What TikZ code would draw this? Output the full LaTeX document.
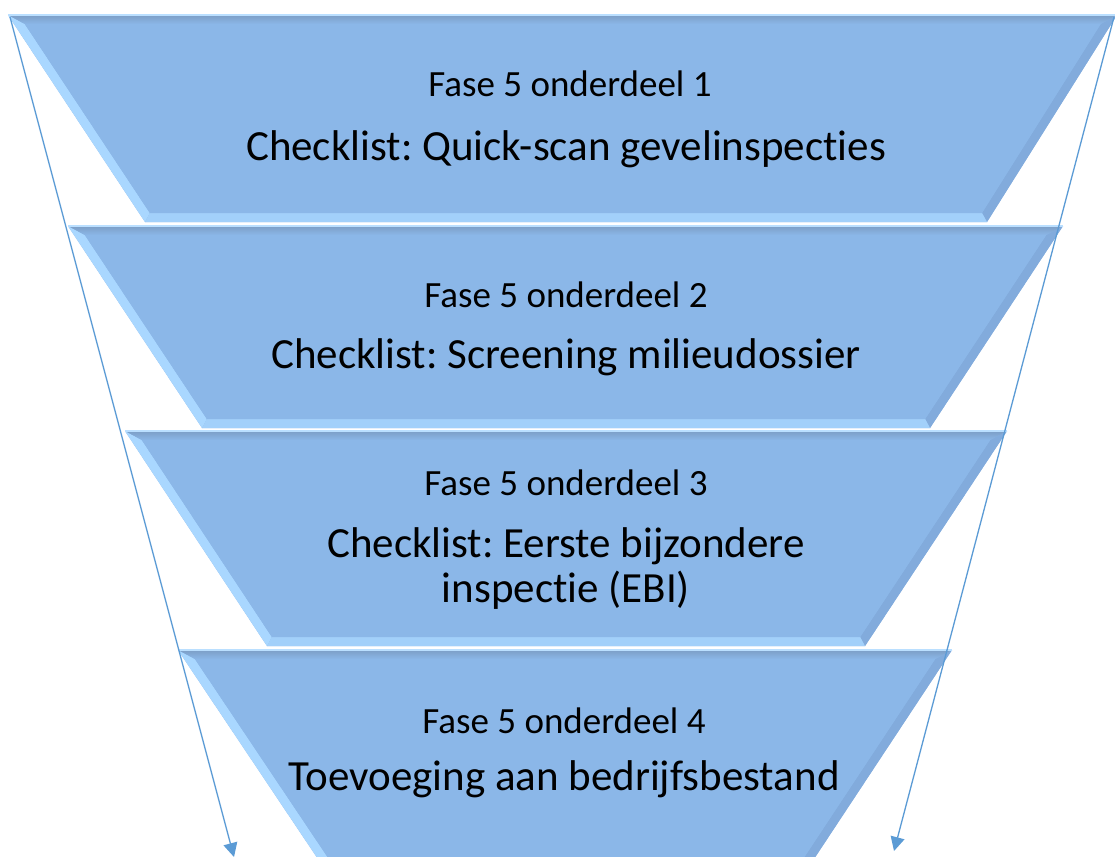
\documentclass[tikz,border=0pt]{standalone}
\usepackage{fontspec}
\setmainfont{Carlito}[Ligatures={NoCommon,NoRare,NoContextual}]
\frenchspacing
\usetikzlibrary{arrows.meta,calc}
\definecolor{face}{HTML}{8BB7E8}
\definecolor{topbev}{HTML}{7C9EC6}
\definecolor{toplight}{HTML}{BADFFF}
\definecolor{lightbev}{HTML}{A9D7FF}
\definecolor{rightbev}{HTML}{82ABDC}
\definecolor{botbev}{HTML}{A2D0FA}
\definecolor{arrowc}{HTML}{5B9BD5}
\def\bev{9}
% #1 name, #2 top y, #3 bottom y, #4 top-left x, #5 top-right x, #6 bottom-left x, #7 bottom-right x
\newcommand\funnelseg[7]{%
  \pgfmathsetmacro\kl{(#6-#4)/(#3-#2)}%
  \pgfmathsetmacro\kr{(#5-#7)/(#3-#2)}%
  \pgfmathsetmacro\hl{\bev*sqrt(1+\kl*\kl)}%
  \pgfmathsetmacro\hr{\bev*sqrt(1+\kr*\kr)}%
  \coordinate (#1TL) at (#4,-#2);
  \coordinate (#1TR) at (#5,-#2);
  \coordinate (#1BL) at (#6,-#3);
  \coordinate (#1BR) at (#7,-#3);
  \coordinate (#1iTL) at ({#4+\kl*\bev+\hl},{-(#2+\bev)});
  \coordinate (#1iTR) at ({#5-\kr*\bev-\hr},{-(#2+\bev)});
  \coordinate (#1iBL) at ({#6-\kl*\bev+\hl},{-(#3-\bev)});
  \coordinate (#1iBR) at ({#7+\kr*\bev-\hr},{-(#3-\bev)});
  \fill[face] (#1TL) -- (#1TR) -- (#1BR) -- (#1BL) -- cycle;
  \fill[lightbev] (#1TL) -- (#1iTL) -- (#1iBL) -- (#1BL) -- cycle;
  \fill[rightbev] (#1TR) -- (#1BR) -- (#1iBR) -- (#1iTR) -- cycle;
  \fill[botbev] (#1BL) -- (#1iBL) -- (#1iBR) -- (#1BR) -- cycle;
  \shade[top color=topbev, bottom color=face] (#1TL) -- (#1TR) -- (#1iTR) -- (#1iTL) -- cycle;
  \fill[face] (#1iTL) -- (#1iTR) -- (#1iBR) -- (#1iBL) -- cycle;
  \draw[toplight, line width=2pt] (#1TL) -- (#1TR);
}
\tikzset{
  small/.style={anchor=base, font=\fontsize{37}{44}\selectfont, text=black, inner sep=0pt},
  big/.style={anchor=base, font=\fontsize{43}{46}\selectfont, text=black, inner sep=0pt, align=center},
  flow/.style={draw=arrowc, line width=1.3pt, -{Triangle[length=14pt,width=14pt]}, arrowc}
}
\begin{document}
\begin{tikzpicture}[x=1pt,y=1pt]
\useasboundingbox (0,0) rectangle (1115,-856);
\fill[white] (0,0) rectangle (1115,-856);
\funnelseg{A}{15}{222}{8}{1117}{145}{987}
\funnelseg{B}{226}{428}{68}{1063}{202}{930}
\funnelseg{C}{431}{646}{125}{1007}{267}{865}
\funnelseg{D}{650}{868}{178}{952}{324}{808}

\node[small] (a1) at (570,-97) {Fase 5 onderdeel 1};
\node[big] (a2) at (566,-160) {Checklist: Quick-scan gevelinspecties};
\node[small] (b1) at (566,-307) {Fase 5 onderdeel 2};
\node[big] (b2) at (566,-368) {Checklist: Screening milieudossier};
\node[small] (c1) at (566,-495) {Fase 5 onderdeel 3};
\node[big] (c2) at (566,-557) {Checklist: Eerste bijzondere};
\node[big] (c3) at (566,-602) {inspectie (EBI)};
\node[small] (d1) at (564,-733) {Fase 5 onderdeel 4};
\node[big] (d2) at (564,-790) {Toevoeging aan bedrijfsbestand};

\coordinate (LS) at (10,-17);
\coordinate (LE) at (234,-857);
\coordinate (RS) at (1114,-17);
\coordinate (RE) at (894,-851);
\draw[flow] (LS) -- (LE);
\draw[flow] (RS) -- (RE);
\end{tikzpicture}
\end{document}
